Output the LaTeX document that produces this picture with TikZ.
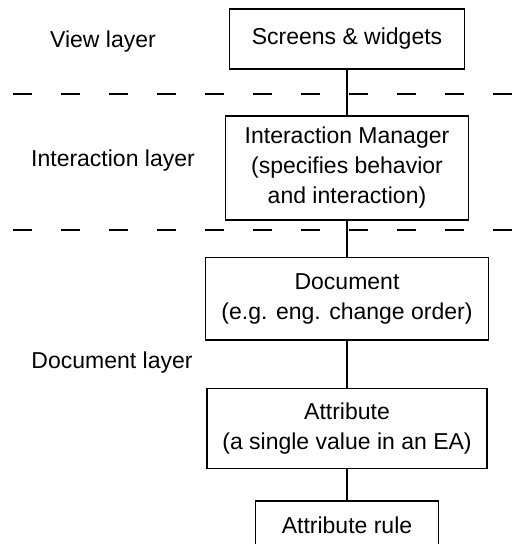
\documentclass[tikz,border=0pt]{standalone}
\usepackage{fontspec}
\setmainfont{Liberation Sans}
\usetikzlibrary{positioning}

\tikzstyle{layerbox} = [rectangle, draw, line width=0.9pt, align=center,
inner sep=2pt, font=\fontsize{11.5}{15}\selectfont]
\tikzstyle{layername} = [anchor=base, font=\fontsize{11.5}{15}\selectfont]
\tikzstyle{link} = [line width=0.9pt]
\tikzstyle{divider} = [line width=0.9pt, dash pattern=on 9.5pt off 14.5pt]

\begin{document}
\begin{tikzpicture}[x=0.5pt, y=-0.5pt]
	\useasboundingbox (0,0) rectangle (519,544);
	%boxes down the middle
	\node[layerbox, minimum width=117.5pt, minimum height=30pt](screens) at (347,39){Screens \& widgets};
	\node[layerbox, minimum width=121.5pt, minimum height=52pt, below=22.5pt of screens](manager){Interaction Manager\\(specifies behavior\\and interaction)};
	\node[layerbox, minimum width=141.5pt, minimum height=41pt, below=18pt of manager](document){Document\\(e.g. eng. change order)};
	\node[layerbox, minimum width=140pt, minimum height=40pt, below=23.5pt of document](attribute){Attribute\\(a single value in an EA)};
	\node[layerbox, minimum width=91.5pt, minimum height=24.5pt, below=15.5pt of attribute](rule){Attribute rule};

	%layer names on the left
	\node[layername](viewname) at (103,48){View layer};
	\node[layername](interactionname) at (113,167){Interaction layer};
	\node[layername](documentname) at (112,368){Document layer};

	%layer borders
	\coordinate (topleft) at (13,94);
	\coordinate (topright) at (519,94);
	\coordinate (lowleft) at (13,230);
	\coordinate (lowright) at (519,230);
	\draw[divider] (topleft) -- (topright);
	\draw[divider] (lowleft) -- (lowright);

	%edges
	\path[link,draw] (screens) -- (manager);
	\path[link,draw] (manager) -- (document);
	\path[link,draw] (document) -- (attribute);
	\path[link,draw] (attribute) -- (rule);
\end{tikzpicture}
\end{document}
